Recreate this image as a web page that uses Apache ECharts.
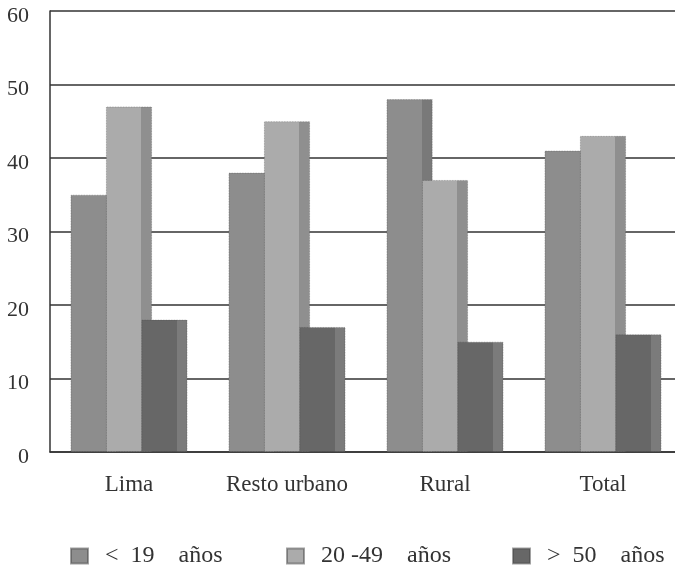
<!DOCTYPE html>
<html>
<head>
<meta charset="utf-8">
<script src="https://cdn.jsdelivr.net/npm/echarts@6/dist/echarts.min.js"></script>
<style>
  html, body { margin: 0; padding: 0; background: #fff; overflow: hidden; }
  #chart { width: 685px; height: 567px; }
</style>
</head>
<body>
<div id="chart"></div>
<script>
const categories = ['Lima', 'Resto urbano', 'Rural', 'Total'];
const seriesNames = ['<  19    años', '20 -49    años', '>  50    años'];
const under19 = [35, 38, 48, 41];
const from20to49 = [47, 45, 37, 43];
const over50 = [18, 17, 15, 16];
const yTicks = [0, 10, 20, 30, 40, 50, 60];

const FONT = '"Liberation Serif", "DejaVu Serif", serif';
const chart = echarts.init(document.getElementById('chart'), null, { renderer: 'canvas' });

function grad(front, side) {
  return new echarts.graphic.LinearGradient(0, 0, 1, 0, [
    { offset: 0, color: front },
    { offset: 0.77, color: front },
    { offset: 0.77, color: side },
    { offset: 1, color: side }
  ]);
}
const styles = [
  { front: '#8d8d8d', side: '#797979', legend: '#8d8d8d' },
  { front: '#ababab', side: '#8f8f8f', legend: '#ababab' },
  { front: '#676767', side: '#7b7b7b', legend: '#676767' }
];
const values = [under19, from20to49, over50];

function legendFor(i, left) {
  return {
    data: [{ name: seriesNames[i], itemStyle: { color: styles[i].legend } }],
    left: left,
    top: 539,
    itemWidth: 17,
    itemHeight: 15,
    icon: 'rect',
    selectedMode: false,
    formatter: n => '  ' + n,
    textStyle: { fontFamily: FONT, fontSize: 24, color: '#333' }
  };
}

chart.setOption({
  animation: false,
  backgroundColor: '#fff',
  grid: { left: 50, right: 3, top: 11, bottom: 115, containLabel: false },
  legend: [legendFor(0, 65), legendFor(1, 281), legendFor(2, 507)],
  xAxis: {
    type: 'category',
    data: categories,
    axisLine: { show: true, lineStyle: { color: '#333', width: 1.5 } },
    axisTick: { show: false },
    axisLabel: { interval: 0, margin: 21, fontFamily: FONT, fontSize: 23, color: '#333' }
  },
  yAxis: {
    type: 'value',
    min: yTicks[0],
    max: yTicks[yTicks.length - 1],
    interval: 10,
    axisLine: { show: true, lineStyle: { color: '#333', width: 1.5 } },
    axisTick: { show: false },
    splitLine: { show: true, lineStyle: { color: '#333', width: 1.5 } },
    axisLabel: { margin: 21, verticalAlign: 'top', lineHeight: 10, fontFamily: FONT, fontSize: 22, color: '#333' }
  },
  series: values.map((v, i) => ({
    name: seriesNames[i],
    type: 'bar',
    data: v,
    barWidth: 46,
    barGap: '-23%',
    itemStyle: {
      color: grad(styles[i].front, styles[i].side),
      borderColor: 'rgba(70,70,70,0.5)',
      borderWidth: 0.8,
      borderType: 'dotted'
    }
  }))
});
</script>
</body>
</html>
